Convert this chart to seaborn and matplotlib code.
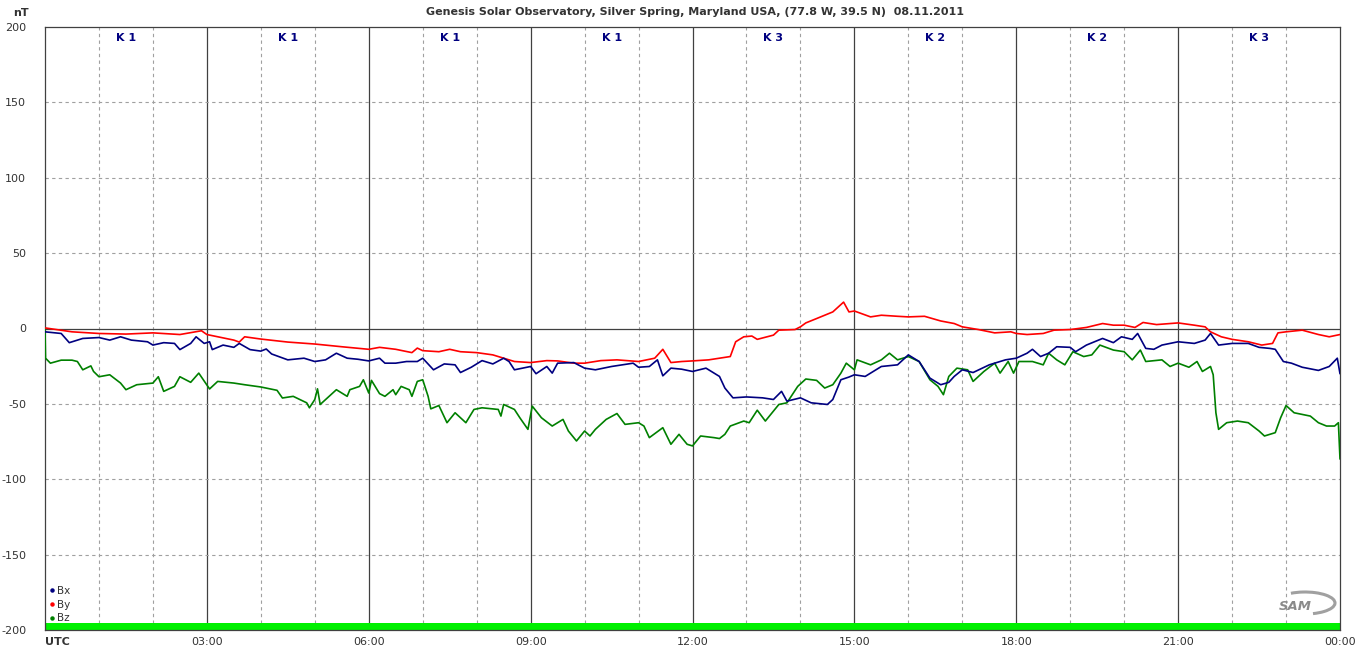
import matplotlib
matplotlib.use("Agg")
import matplotlib.pyplot as plt
from matplotlib.lines import Line2D
from matplotlib.patches import Arc
import seaborn as sns
import pandas as pd

# ---------------- data ----------------
bx_t = [0.0,0.3,0.45,0.7,1.0,1.2,1.4,1.6,1.9,2.0,2.2,2.4,2.5,2.7,2.8,2.95,3.05,3.1,3.3,3.5,3.6,3.8,4.0,4.1,4.2,4.5,4.8,5.0,5.2,5.4,5.6,5.8,6.0,6.2,6.3,6.5,6.7,6.9,7.0,7.2,7.4,7.6,7.7,7.9,8.1,8.3,8.5,8.6,8.7,9.0,9.1,9.3,9.4,9.5,9.8,10.0,10.2,10.5,10.9,11.0,11.2,11.35,11.45,11.6,11.8,12.0,12.25,12.5,12.6,12.75,13.0,13.3,13.5,13.65,13.75,14.0,14.2,14.5,14.6,14.75,14.9,15.0,15.2,15.5,15.8,16.0,16.2,16.4,16.6,16.75,16.85,17.0,17.2,17.5,17.8,18.0,18.2,18.3,18.45,18.6,18.75,19.0,19.1,19.3,19.6,19.8,19.95,20.15,20.25,20.4,20.55,20.7,21.0,21.3,21.5,21.6,21.75,22.0,22.3,22.5,22.7,22.8,22.95,23.1,23.3,23.6,23.8,23.95,24.0]
bx_v = [-2.2,-3.3,-9.4,-6.6,-6.0,-7.7,-5.5,-7.7,-8.8,-11.0,-9.4,-9.9,-14.0,-9.9,-5.5,-9.9,-8.8,-14.0,-11.0,-12.5,-9.9,-14.0,-15.0,-13.6,-16.9,-20.8,-19.7,-21.9,-20.8,-16.4,-19.7,-20.4,-21.5,-19.7,-23.0,-23.0,-21.9,-21.9,-19.7,-27.4,-23.5,-24.1,-29.2,-25.7,-21.3,-23.5,-19.7,-21.9,-27.4,-25.2,-30.0,-25.2,-29.6,-23.0,-22.6,-26.3,-27.4,-25.2,-23.0,-25.7,-25.2,-20.8,-31.4,-26.3,-27.0,-28.5,-26.3,-31.8,-39.5,-46.0,-45.4,-46.0,-47.1,-41.7,-48.2,-46.0,-49.3,-50.4,-47.1,-34.0,-32.2,-30.7,-31.8,-25.2,-24.1,-17.5,-21.9,-32.9,-37.3,-35.7,-31.8,-27.4,-29.2,-24.1,-20.8,-19.7,-16.4,-13.8,-18.6,-16.4,-12.1,-12.5,-15.4,-11.0,-6.6,-9.4,-5.5,-7.2,-3.3,-13.2,-13.8,-11.0,-8.8,-9.9,-7.7,-3.3,-11.0,-9.9,-9.9,-12.5,-13.2,-13.8,-21.9,-23.0,-25.7,-27.8,-25.2,-19.7,-30.0]

by_t = [0.0,0.5,1.0,1.5,2.0,2.5,2.9,3.0,3.5,3.6,3.7,4.0,4.5,5.0,5.5,6.0,6.2,6.5,6.8,6.9,7.0,7.3,7.5,7.7,8.0,8.3,8.5,8.7,9.0,9.3,9.5,9.8,10.0,10.3,10.6,11.0,11.3,11.45,11.6,11.8,12.0,12.3,12.5,12.7,12.8,12.95,13.1,13.2,13.5,13.6,13.9,14.0,14.1,14.3,14.6,14.8,14.9,15.0,15.3,15.5,15.8,16.0,16.3,16.6,16.85,17.0,17.3,17.6,17.9,18.0,18.2,18.5,18.7,19.0,19.3,19.6,19.8,20.0,20.2,20.35,20.6,21.0,21.3,21.5,21.6,21.8,22.0,22.3,22.55,22.75,22.85,23.0,23.3,23.6,23.8,24.0]
by_v = [0.4,-2.2,-3.3,-3.7,-2.9,-4.0,-1.5,-4.0,-7.7,-9.0,-5.5,-7.0,-9.0,-10.3,-12.1,-13.8,-12.5,-13.8,-16.0,-13.0,-14.7,-15.4,-13.8,-15.4,-16.0,-17.5,-19.7,-21.9,-22.6,-21.3,-21.5,-23.0,-23.0,-21.3,-20.8,-21.9,-19.7,-13.8,-22.6,-21.9,-21.5,-20.8,-19.7,-18.6,-8.8,-5.5,-5.0,-7.2,-4.4,-1.1,-0.7,1.1,3.7,6.6,11.0,17.5,11.0,11.6,7.7,8.8,8.1,7.7,8.1,5.0,3.3,1.1,-0.7,-2.9,-2.2,-3.3,-4.0,-3.3,-1.1,-0.7,0.7,3.3,2.2,2.2,0.7,4.0,2.6,3.7,2.2,1.1,-2.2,-5.5,-7.2,-8.8,-11.0,-9.9,-2.9,-2.2,-1.1,-4.0,-5.5,-4.0]

bz_t = [0.0,0.01,0.1,0.3,0.5,0.6,0.7,0.85,0.9,1.0,1.2,1.4,1.5,1.7,2.0,2.1,2.2,2.4,2.5,2.7,2.85,3.05,3.2,3.5,3.7,4.0,4.3,4.4,4.6,4.85,4.9,5.0,5.05,5.1,5.2,5.4,5.6,5.65,5.83,5.9,6.0,6.05,6.2,6.3,6.45,6.5,6.6,6.75,6.8,6.9,7.0,7.1,7.15,7.3,7.45,7.6,7.7,7.8,7.95,8.1,8.4,8.45,8.5,8.7,8.8,8.95,9.03,9.2,9.4,9.6,9.7,9.85,10.0,10.1,10.2,10.4,10.6,10.75,11.0,11.1,11.2,11.45,11.6,11.75,11.9,12.0,12.15,12.4,12.5,12.6,12.7,12.95,13.05,13.2,13.35,13.5,13.6,13.75,13.95,14.1,14.3,14.45,14.6,14.75,14.85,15.0,15.05,15.3,15.5,15.65,15.8,16.0,16.2,16.4,16.55,16.65,16.75,16.9,17.1,17.2,17.4,17.6,17.7,17.85,17.95,18.05,18.3,18.5,18.6,18.75,18.9,19.05,19.25,19.4,19.55,19.8,20.0,20.15,20.3,20.4,20.7,20.85,21.0,21.2,21.35,21.45,21.6,21.65,21.7,21.75,21.9,22.1,22.3,22.5,22.6,22.8,22.9,23.0,23.15,23.3,23.45,23.6,23.75,23.9,23.97,24.0]
bz_v = [0.0,-19.7,-23.0,-21.0,-21.0,-21.9,-27.4,-24.8,-28.5,-32.0,-30.7,-36.2,-40.6,-37.3,-36.2,-32.0,-41.7,-38.4,-32.0,-35.7,-29.6,-40.1,-35.1,-36.2,-37.3,-38.8,-41.0,-46.1,-45.0,-49.3,-52.6,-47.1,-40.0,-50.4,-47.1,-40.6,-45.0,-40.6,-38.4,-34.0,-42.8,-34.4,-43.2,-45.0,-40.6,-43.9,-38.4,-40.6,-45.0,-35.1,-34.0,-45.0,-53.3,-51.1,-62.5,-55.9,-59.2,-62.5,-53.7,-52.6,-53.7,-58.1,-50.4,-53.7,-59.2,-66.9,-51.5,-59.2,-64.7,-60.3,-68.0,-74.6,-68.0,-71.3,-66.9,-60.3,-56.4,-63.6,-62.5,-64.7,-72.4,-65.8,-76.8,-70.2,-76.8,-77.9,-71.3,-72.4,-73.0,-70.2,-64.7,-61.4,-62.5,-54.2,-61.4,-54.8,-50.4,-49.3,-38.4,-33.5,-34.4,-39.5,-37.3,-29.6,-23.0,-27.4,-20.8,-24.1,-20.8,-16.4,-20.8,-18.6,-21.9,-34.0,-38.4,-43.9,-31.8,-26.3,-27.4,-35.1,-28.5,-23.0,-29.6,-21.9,-29.6,-21.9,-21.9,-24.1,-16.4,-20.8,-24.1,-15.4,-18.6,-17.5,-11.0,-14.3,-15.4,-20.8,-14.3,-21.9,-20.8,-25.2,-23.0,-25.7,-21.9,-28.5,-25.2,-30.7,-55.9,-66.9,-62.5,-61.4,-62.5,-68.0,-71.3,-69.1,-59.2,-51.1,-55.9,-57.0,-58.1,-62.5,-64.7,-64.7,-62.5,-86.6]

k_hours = [1.5, 4.5, 7.5, 10.5, 13.5, 16.5, 19.5, 22.5]
k_labels = ["K 1", "K 1", "K 1", "K 1", "K 3", "K 2", "K 2", "K 3"]

x_ticks = [0, 3, 6, 9, 12, 15, 18, 21, 24]
x_ticklabels = ["UTC", "03:00", "06:00", "09:00", "12:00", "15:00", "18:00", "21:00", "00:00"]
y_ticks = [-200, -150, -100, -50, 0, 50, 100, 150, 200]

title = "Genesis Solar Observatory, Silver Spring, Maryland USA, (77.8 W, 39.5 N)  08.11.2011"

# ---------------- plot ----------------
sns.set_theme(style="white")
plt.rcParams['font.family'] = ['DejaVu Sans']

fig = plt.figure(figsize=(13.6, 6.57), dpi=100)
ax = fig.add_axes([45/1360, 27/657, 1295/1360, 603/657])

colors = {"Bx": "#000080", "By": "#ff0000", "Bz": "#008000"}
frames = []
for name, t, v in [("Bx", bx_t, bx_v), ("By", by_t, by_v), ("Bz", bz_t, bz_v)]:
    frames.append(pd.DataFrame({"hour": t, "nT": v, "comp": name}))
df = pd.concat(frames, ignore_index=True)

# grid
grid_c = "#a0a0a0"
for h in range(1, 24):
    if h % 3 == 0:
        ax.axvline(h, color="#404040", lw=0.9, zorder=1)
    else:
        ax.axvline(h, color=grid_c, lw=0.8, ls=(0, (3, 3)), zorder=1)
for y in y_ticks[1:-1]:
    if y == 0:
        ax.axhline(0, color="#404040", lw=0.9, zorder=1)
    else:
        ax.axhline(y, color=grid_c, lw=0.8, ls=(0, (3, 3)), zorder=1)

# green status bar
ax.axhspan(-200, -195.5, color="#00f000", lw=0, zorder=2)

for name in ["Bz", "By", "Bx"]:
    sub = df[df["comp"] == name]
    sns.lineplot(data=sub, x="hour", y="nT", color=colors[name], lw=1.2,
                 ax=ax, zorder=3, legend=False, estimator=None, sort=False)

ax.set_xlim(0, 24)
ax.set_ylim(-200, 200)
ax.set_xlabel("")
ax.set_ylabel("")

ax.set_xticks(range(25))
ax.set_xticklabels([""] * 25)
for h, lab in zip(x_ticks, x_ticklabels):
    if lab == "UTC":
        ax.text(h, -204.5, lab, ha="left", va="top", fontsize=8, fontweight="bold", color="#333333")
    else:
        ax.text(h, -204.5, lab, ha="center", va="top", fontsize=8, color="#333333")
ax.set_yticks(y_ticks)
ax.set_yticklabels([str(v) for v in y_ticks], fontsize=8, color="#333333")
ax.tick_params(axis="x", direction="inout", length=7, width=0.9, color="#404040", pad=2)
ax.tick_params(axis="y", direction="out", length=2.5, width=0.9, color="#404040", pad=11)
for s in ax.spines.values():
    s.set_color("#404040")
    s.set_linewidth(0.9)

# K labels
for h, lab in zip(k_hours, k_labels):
    ax.text(h, 193, lab, ha="center", va="center", fontsize=8, fontweight="bold", color="#000080")

# legend
handles = [Line2D([0], [0], marker="o", ls="none", markersize=2.2, color=colors[n]) for n in ["Bx", "By", "Bz"]]
leg = ax.legend(handles, ["Bx", "By", "Bz"], loc="lower left", bbox_to_anchor=(-0.001, 0.001),
                frameon=False, fontsize=7.5, handlelength=0.35, handletextpad=0.35,
                labelspacing=0.35, borderaxespad=0.2, labelcolor="#333333")

# title and unit
fig.text(695/1360, 1 - 12/657, title, ha="center", va="center", fontsize=8, fontweight="bold", color="#333333")
fig.text(21/1360, 1 - 13/657, "nT", ha="center", va="center", fontsize=8, fontweight="bold", color="#333333")

# logo
fig.text(1295/1360, 1 - 607/657, "SAM", ha="center", va="center", fontsize=9.5, fontstyle="italic",
         color="#8a8a8a", fontweight="bold")
fig.add_artist(Arc((1305/1360, 1 - 603/657), 60/1360, 22/657, angle=0, theta1=-70, theta2=125,
                   color="#a0a0a0", lw=2.2, transform=fig.transFigure))

fig.savefig("out.png", dpi=100)
